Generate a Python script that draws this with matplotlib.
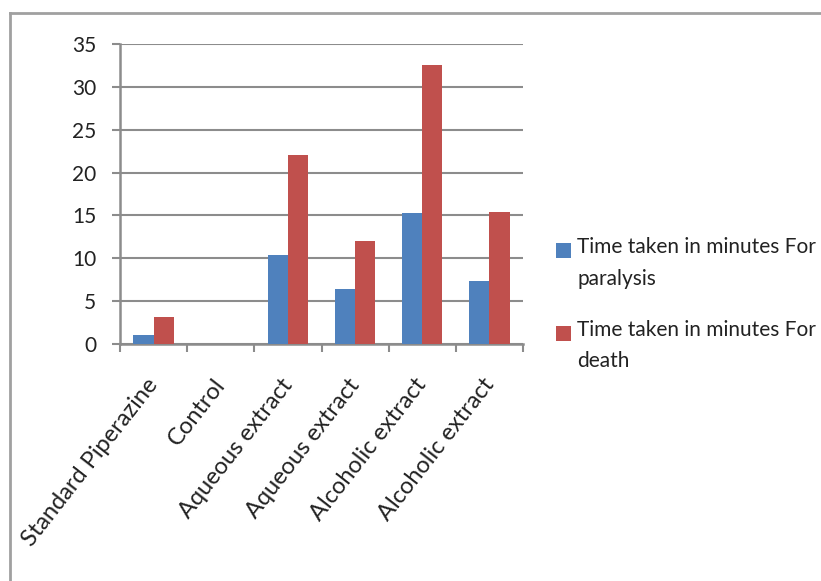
import matplotlib
matplotlib.use("Agg")
import matplotlib.pyplot as plt
from matplotlib.lines import Line2D
from matplotlib.patches import Rectangle
from matplotlib.container import BarContainer
from matplotlib.legend_handler import HandlerPatch, update_from_first_child
from matplotlib.transforms import ScaledTranslation
import numpy as np

categories = ["Standard Piperazine", "Control", "Aqueous extract", "Aqueous extract",
              "Alcoholic extract", "Alcoholic extract"]
paralysis = [1.0, 0, 10.35, 6.4, 15.25, 7.35]
death = [3.2, 0, 22.1, 12.05, 32.5, 15.4]
series_names = ["Time taken in minutes For\nparalysis", "Time taken in minutes For\ndeath"]
yticks = [0, 5, 10, 15, 20, 25, 30, 35]

plt.rcParams['font.family'] = ['Lato', 'DejaVu Sans']

fig = plt.figure(figsize=(8.21, 5.81), dpi=100)
ax = fig.add_axes([120/821, 1-344/581, (523-120)/821, 300/581])

x = np.arange(len(categories))
w = 0.3
ax.bar(x - w/2, paralysis, w, color="#4F81BD", label=series_names[0], zorder=3)
ax.bar(x + w/2, death, w, color="#C0504D", label=series_names[1], zorder=3)

ax.set_xlim(-0.5, len(categories) - 0.5)
ax.set_ylim(0, 35)
ax.set_yticks(yticks)
ax.yaxis.grid(True, color="#8c8c8c", linewidth=1.5, zorder=0)
ax.set_axisbelow(True)

for s in ["top", "right"]:
    ax.spines[s].set_visible(False)
for s in ["left", "bottom"]:
    ax.spines[s].set_color("#8c8c8c")
    ax.spines[s].set_linewidth(1.8)

ax.set_xticks(np.arange(len(categories) + 1) - 0.5, minor=False)
ax.set_xticklabels([])
ax.set_xticks(x, minor=True)
ax.set_xticklabels(categories, minor=True, rotation=52, ha="right", va="top",
                   rotation_mode="anchor", fontsize=17, color="#222222")
ax.tick_params(axis="x", which="major", length=6, width=1.5, color="#8c8c8c", direction="out")
ax.tick_params(axis="x", which="minor", length=0, pad=22)
ax.tick_params(axis="y", length=6, width=1.5, color="#8c8c8c", labelsize=15,
               labelcolor="#222222", pad=11)
shift = ScaledTranslation(-8/100, 0, fig.dpi_scale_trans)
for lab in ax.get_xticklabels(minor=True):
    lab.set_transform(lab.get_transform() + shift)


def top_square(legend, orig_handle, xdescent, ydescent, width, height, fontsize):
    return Rectangle((-xdescent, -ydescent + 0.62 * fontsize), width, height)


leg = fig.legend(loc="upper left", bbox_to_anchor=(548/821, 1-229/581), frameon=False,
                 fontsize=15, handlelength=0.72, handleheight=0.72, handletextpad=0.28,
                 labelspacing=1.5, borderaxespad=0,
                 handler_map={BarContainer: HandlerPatch(patch_func=top_square,
                                                         update_func=update_from_first_child)})
for t in leg.get_texts():
    t.set_color("#222222")
    t.set_linespacing(1.7)

# outer chart border
fig.add_artist(Line2D([10/821, 10/821], [0, 1-13/581], transform=fig.transFigure,
                      color="#a0a0a0", linewidth=2))
fig.add_artist(Line2D([10/821, 1], [1-13/581, 1-13/581], transform=fig.transFigure,
                      color="#a0a0a0", linewidth=2))

fig.savefig("out.png", dpi=100)
